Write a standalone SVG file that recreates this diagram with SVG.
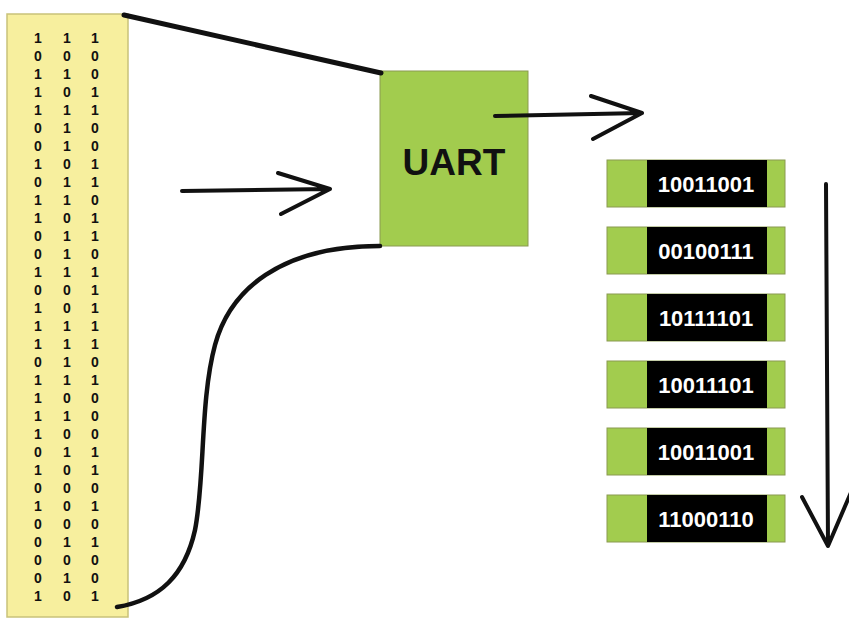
<svg xmlns="http://www.w3.org/2000/svg" width="849" height="622" viewBox="0 0 849 622">
<style>
.bits{font-family:"Liberation Sans",Arial,sans-serif;font-weight:bold;font-size:14px;fill:#111;text-anchor:middle}
.byte-txt{font-family:"Liberation Sans",Arial,sans-serif;font-weight:bold;font-size:22px;fill:#fff;text-anchor:middle}
.green{fill:#a2cc4e;stroke:#8a9a50;stroke-width:1}
.conn{fill:none;stroke:#111;stroke-linecap:round;stroke-linejoin:round}
</style>
<rect width="849" height="622" fill="#fff"/>
<g id="bitstream">
<rect x="7" y="14" width="121" height="603" fill="#f7ef9e" stroke="#c9c27a" stroke-width="1.5"/>
<g class="bits">
<text x="38" y="43">1</text><text x="67" y="43">1</text><text x="95" y="43">1</text>
<text x="38" y="61">0</text><text x="67" y="61">0</text><text x="95" y="61">0</text>
<text x="38" y="79">1</text><text x="67" y="79">1</text><text x="95" y="79">0</text>
<text x="38" y="97">1</text><text x="67" y="97">0</text><text x="95" y="97">1</text>
<text x="38" y="115">1</text><text x="67" y="115">1</text><text x="95" y="115">1</text>
<text x="38" y="133">0</text><text x="67" y="133">1</text><text x="95" y="133">0</text>
<text x="38" y="151">0</text><text x="67" y="151">1</text><text x="95" y="151">0</text>
<text x="38" y="169">1</text><text x="67" y="169">0</text><text x="95" y="169">1</text>
<text x="38" y="187">0</text><text x="67" y="187">1</text><text x="95" y="187">1</text>
<text x="38" y="205">1</text><text x="67" y="205">1</text><text x="95" y="205">0</text>
<text x="38" y="223">1</text><text x="67" y="223">0</text><text x="95" y="223">1</text>
<text x="38" y="241">0</text><text x="67" y="241">1</text><text x="95" y="241">1</text>
<text x="38" y="259">0</text><text x="67" y="259">1</text><text x="95" y="259">0</text>
<text x="38" y="277">1</text><text x="67" y="277">1</text><text x="95" y="277">1</text>
<text x="38" y="295">0</text><text x="67" y="295">0</text><text x="95" y="295">1</text>
<text x="38" y="313">1</text><text x="67" y="313">0</text><text x="95" y="313">1</text>
<text x="38" y="331">1</text><text x="67" y="331">1</text><text x="95" y="331">1</text>
<text x="38" y="349">1</text><text x="67" y="349">1</text><text x="95" y="349">1</text>
<text x="38" y="367">0</text><text x="67" y="367">1</text><text x="95" y="367">0</text>
<text x="38" y="385">1</text><text x="67" y="385">1</text><text x="95" y="385">1</text>
<text x="38" y="403">1</text><text x="67" y="403">0</text><text x="95" y="403">0</text>
<text x="38" y="421">1</text><text x="67" y="421">1</text><text x="95" y="421">0</text>
<text x="38" y="439">1</text><text x="67" y="439">0</text><text x="95" y="439">0</text>
<text x="38" y="457">0</text><text x="67" y="457">1</text><text x="95" y="457">1</text>
<text x="38" y="475">1</text><text x="67" y="475">0</text><text x="95" y="475">1</text>
<text x="38" y="493">0</text><text x="67" y="493">0</text><text x="95" y="493">0</text>
<text x="38" y="511">1</text><text x="67" y="511">0</text><text x="95" y="511">1</text>
<text x="38" y="529">0</text><text x="67" y="529">0</text><text x="95" y="529">0</text>
<text x="38" y="547">0</text><text x="67" y="547">1</text><text x="95" y="547">1</text>
<text x="38" y="565">0</text><text x="67" y="565">0</text><text x="95" y="565">0</text>
<text x="38" y="583">0</text><text x="67" y="583">1</text><text x="95" y="583">0</text>
<text x="38" y="601">1</text><text x="67" y="601">0</text><text x="95" y="601">1</text>
</g>
</g>
<g id="uart">
<rect class="green" x="380" y="71" width="148" height="175"/>
<text x="454" y="175" font-family="'Liberation Sans',Arial,sans-serif" font-weight="bold" font-size="37" fill="#111" text-anchor="middle">UART</text>
</g>
<g id="bytes">
<g id="byte1"><rect class="green" x="607" y="160" width="178" height="47"/><rect x="647" y="160" width="120" height="47" fill="#000"/><text class="byte-txt" x="706" y="192">10011001</text></g>
<g id="byte2"><rect class="green" x="607" y="227" width="178" height="47"/><rect x="647" y="227" width="120" height="47" fill="#000"/><text class="byte-txt" x="706" y="259">00100111</text></g>
<g id="byte3"><rect class="green" x="607" y="294" width="178" height="47"/><rect x="647" y="294" width="120" height="47" fill="#000"/><text class="byte-txt" x="706" y="326">10111101</text></g>
<g id="byte4"><rect class="green" x="607" y="361" width="178" height="47"/><rect x="647" y="361" width="120" height="47" fill="#000"/><text class="byte-txt" x="706" y="393">10011101</text></g>
<g id="byte5"><rect class="green" x="607" y="428" width="178" height="47"/><rect x="647" y="428" width="120" height="47" fill="#000"/><text class="byte-txt" x="706" y="460">10011001</text></g>
<g id="byte6"><rect class="green" x="607" y="495" width="178" height="47"/><rect x="647" y="495" width="120" height="47" fill="#000"/><text class="byte-txt" x="706" y="527">11000110</text></g>
</g>
<g id="connectors">
<path class="conn" stroke-width="5" d="M124,15 L381,73"/>
<path class="conn" stroke-width="4.5" d="M380,246 C280,246 230,290 215,345 C200,400 205,480 195,530 C185,575 160,600 117,607"/>
<path class="conn" stroke-width="4" d="M182,191 L330,189 M278,173 L330,189 L281,214"/>
<path class="conn" stroke-width="4" d="M495,116 L642,113 M591,96 L642,113 L593,139"/>
<path class="conn" stroke-width="4" d="M826,184 L828,546 M802,497 L828,546 L852,490"/>
</g>
</svg>
